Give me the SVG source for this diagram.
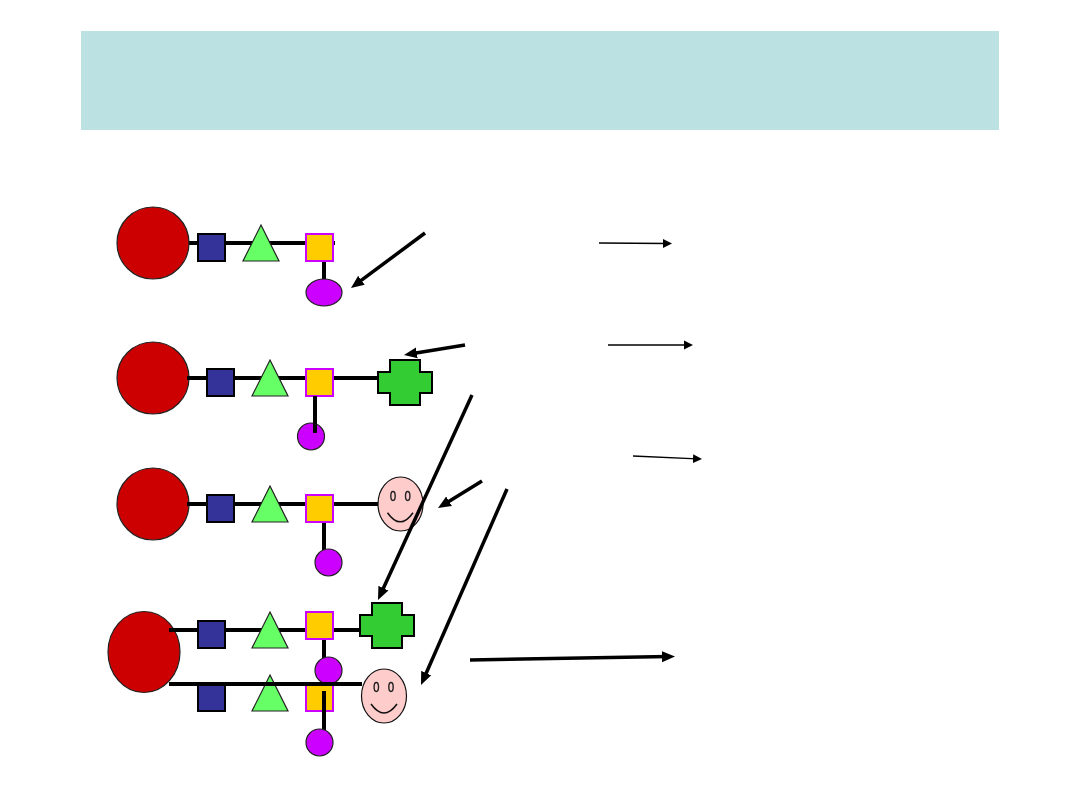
<svg xmlns="http://www.w3.org/2000/svg" width="1080" height="810" viewBox="0 0 1080 810">
  <style>
    .head { fill: #cc0000; stroke: #222; stroke-width: 1.200; }
    .blue { fill: #333399; stroke: #000; stroke-width: 2; }
    .tri { fill: #66ff66; stroke: #222; stroke-width: 1.200; }
    .gold { fill: #ffcc00; stroke: #cc00ff; stroke-width: 2; }
    .dot { fill: #cc00ff; stroke: #222; stroke-width: 1.200; }
    .cross { fill: #33cc33; stroke: #000; stroke-width: 2; }
    .face { fill: #ffcccc; stroke: #111; stroke-width: 1.200; }
    .eye { fill: #ffcccc; stroke: #222; stroke-width: 1.400; }
    .smile { fill: none; stroke: #111; stroke-width: 1.500; }
    .bond { fill: none; stroke: #000; stroke-width: 4; }
    .thick { fill: none; stroke: #000; stroke-width: 3.500; marker-end: url(#big); }
    .thin { fill: none; stroke: #000; stroke-width: 1.300; marker-end: url(#small); }
  </style>
  <defs>
    <marker id="big" markerUnits="userSpaceOnUse" markerWidth="14" markerHeight="12" refX="7" refY="6" orient="auto">
      <path d="M0 0.500L13 6L0 11.500Z" fill="#000"/>
    </marker>
    <marker id="small" markerUnits="userSpaceOnUse" markerWidth="10" markerHeight="10" refX="4" refY="5" orient="auto">
      <path d="M0 0.500L9 5L0 9.500Z" fill="#000"/>
    </marker>
  </defs>
  <rect width="1080" height="810" fill="#fff"/>
  <rect id="banner" x="81" y="31" width="918" height="99" fill="#bce1e2"/>

  <g id="row1">
    <path class="bond" d="M187 243H335M324 261V281"/>
    <circle class="head" cx="153" cy="243" r="36"/>
    <rect class="blue" x="198" y="234" width="27" height="27"/>
    <path class="tri" d="M261 225L279 261H243Z"/>
    <rect class="gold" x="306" y="234" width="27" height="27"/>
    <ellipse class="dot" cx="324" cy="292.500" rx="18" ry="13.500"/>
  </g>

  <g id="row2">
    <circle class="head" cx="153" cy="378" r="36"/>
    <path class="bond" d="M187 378H380"/>
    <rect class="blue" x="207" y="369" width="27" height="27"/>
    <path class="tri" d="M270 360L288 396H252Z"/>
    <rect class="gold" x="306" y="369" width="27" height="27"/>
    <circle class="dot" cx="311" cy="436.500" r="13.500"/>
    <path class="bond" d="M315 396V433"/>
    <path class="cross" d="M390 360H420V372H432V393H420V405H390V393H378V372H390Z"/>
  </g>

  <g id="row3">
    <circle class="head" cx="153" cy="504" r="36"/>
    <path class="bond" d="M187 504H380M324 522V550"/>
    <rect class="blue" x="207" y="495" width="27" height="27"/>
    <path class="tri" d="M270 486L288 522H252Z"/>
    <rect class="gold" x="306" y="495" width="27" height="27"/>
    <circle class="dot" cx="328.500" cy="562.500" r="13.500"/>
    <g id="face1">
      <ellipse class="face" cx="400.500" cy="504" rx="22.500" ry="27"/>
      <ellipse class="eye" cx="393" cy="496" rx="2.200" ry="4.500"/>
      <ellipse class="eye" cx="407.700" cy="496" rx="2.200" ry="4.500"/>
      <path class="smile" d="M387.500 512.700Q400.200 531 413 512.700"/>
    </g>
  </g>

  <g id="row4">
    <ellipse class="head" cx="144" cy="652" rx="36" ry="40.500"/>
    <path class="bond" d="M169 630H362M324 639V660"/>
    <rect class="blue" x="198" y="621" width="27" height="27"/>
    <path class="tri" d="M270 612L288 648H252Z"/>
    <rect class="gold" x="306" y="612" width="27" height="27"/>
    <path class="cross" d="M372 603H402V615H414V636H402V648H372V636H360V615H372Z"/>
    <circle class="dot" cx="328.500" cy="670.500" r="13.500"/>
    <rect class="blue" x="198" y="684" width="27" height="27"/>
    <path class="tri" d="M270 675L288 711H252Z"/>
    <rect class="gold" x="306" y="684" width="27" height="27"/>
    <path class="bond" d="M169 684H362M324 691V731"/>
    <circle class="dot" cx="319.500" cy="742.500" r="13.500"/>
    <g id="face2">
      <ellipse class="face" cx="384" cy="696" rx="22.500" ry="27"/>
      <ellipse class="eye" cx="376.300" cy="687" rx="2.200" ry="4.500"/>
      <ellipse class="eye" cx="391" cy="687" rx="2.200" ry="4.500"/>
      <path class="smile" d="M371 704Q384 722 397 704"/>
    </g>
  </g>

  <g id="connectors">
    <path class="thick" d="M425 233L355.800 284.400"/>
    <path class="thick" d="M465 345L409.900 354"/>
    <path class="thick" d="M472 395L380.500 594.500"/>
    <path class="thick" d="M482 481L443.100 504.900"/>
    <path class="thick" d="M507 489L423.400 679.500"/>
    <path class="thick" d="M470 660L669 656.600"/>
    <path class="thin" d="M599 243L667 243.500"/>
    <path class="thin" d="M608 345H688"/>
    <path class="thin" d="M633 456L697 458.800"/>
  </g>
</svg>
